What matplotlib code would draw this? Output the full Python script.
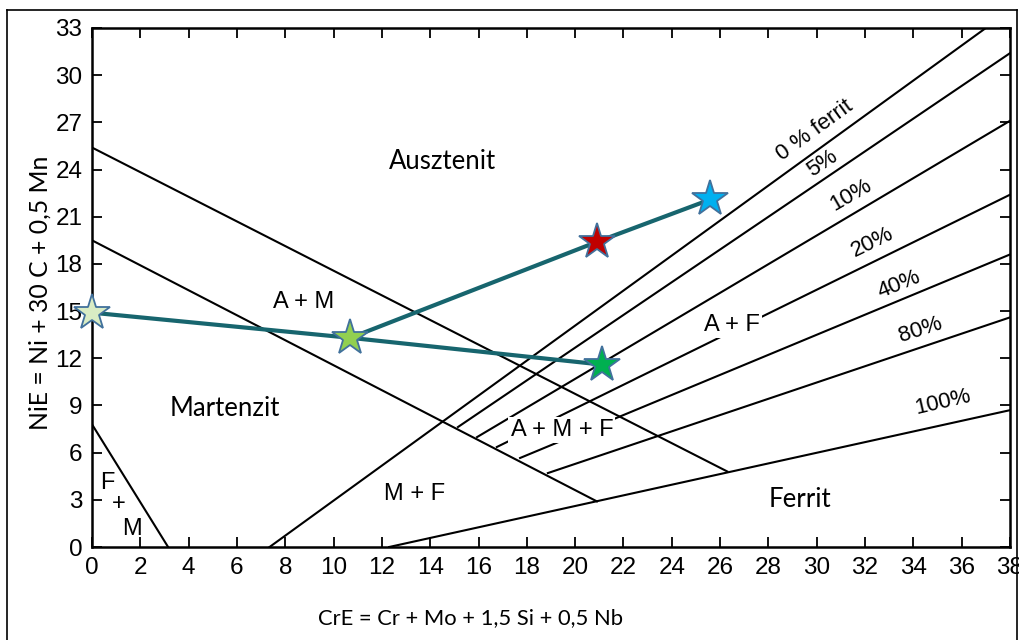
import matplotlib
matplotlib.use("Agg")
import matplotlib.pyplot as plt
from matplotlib.lines import Line2D

# ---- diagram boundary lines (CrE, NiE) ----
fm_line_x = [0.0, 3.15]
fm_line_y = [7.8, 0.0]
am_upper_x = [0.0, 26.3]
am_upper_y = [25.4, 4.8]
am_lower_x = [0.0, 20.9]
am_lower_y = [19.5, 2.9]

ferrite_labels = ["0 % ferrit", "5%", "10%", "20%", "40%", "80%", "100%"]
ferrite_start_x = [7.35, 15.15, 15.94, 16.76, 17.72, 18.87, 12.3]
ferrite_start_y = [0.0, 7.63, 6.99, 6.36, 5.66, 4.70, 0.0]
ferrite_end_x = [37.0, 38.0, 38.0, 38.0, 38.0, 38.0, 38.0]
ferrite_end_y = [33.0, 31.4, 27.1, 22.4, 18.6, 14.6, 8.7]
# label positions / rotations
ferrite_lab_x = [29.9, 30.25, 31.4, 32.3, 33.4, 34.3, 35.2]
ferrite_lab_y = [26.5, 24.4, 22.4, 19.4, 16.7, 13.8, 9.2]
ferrite_lab_rot = [36, 34, 30, 26, 22, 18, 13]

# ---- alloy points ----
pt_labels = ["P1", "P2", "P3", "P4", "P5"]
pt_cre = [0.0, 10.7, 20.9, 25.6, 21.1]
pt_nie = [14.9, 13.3, 19.4, 22.1, 11.6]
pt_colors = ["#d9ecc4", "#92d050", "#c00000", "#00b0f0", "#00b050"]
path_a = [0, 1, 4]
path_b = [1, 2, 3]

x_ticks = list(range(0, 39, 2))
y_ticks = list(range(0, 34, 3))

W, H = 1019, 640
fig = plt.figure(figsize=(W / 100, H / 100), dpi=100)
fig.patch.set_facecolor("white")
ax = fig.add_axes([92 / W, 1 - 547 / H, (1010 - 92) / W, (547 - 28) / H])
ax.set_xlim(0, 38)
ax.set_ylim(0, 33)

lc = "black"
lw = 1.5
ax.plot(fm_line_x, fm_line_y, color=lc, lw=lw)
ax.plot(am_upper_x, am_upper_y, color=lc, lw=lw)
ax.plot(am_lower_x, am_lower_y, color=lc, lw=lw)
for sx, sy, ex, ey in zip(ferrite_start_x, ferrite_start_y, ferrite_end_x, ferrite_end_y):
    ax.plot([sx, ex], [sy, ey], color=lc, lw=lw)

lab_font = "Liberation Sans"
for t, x, y, r in zip(ferrite_labels, ferrite_lab_x, ferrite_lab_y, ferrite_lab_rot):
    ax.text(x, y, t, rotation=r, ha="center", va="center", fontsize=16,
            family=lab_font, rotation_mode="anchor")

bb = dict(facecolor="white", edgecolor="none", pad=1.5)
fs = 17
ax.text(8.75, 15.55, "A + M", ha="center", va="center", fontsize=fs, family=lab_font)
ax.text(26.5, 14.1, "A + F", ha="center", va="center", fontsize=fs, family=lab_font, bbox=bb)
ax.text(19.45, 7.45, "A + M + F", ha="center", va="center", fontsize=fs, family=lab_font, bbox=bb)
ax.text(13.35, 3.4, "M + F", ha="center", va="center", fontsize=fs, family=lab_font)
ax.text(0.65, 4.05, "F", ha="center", va="center", fontsize=fs, family=lab_font)
ax.text(1.1, 2.75, "+", ha="center", va="center", fontsize=fs, family=lab_font)
ax.text(1.65, 1.15, "M", ha="center", va="center", fontsize=fs, family=lab_font)

reg_font = "Lato"
ax.text(14.5, 24.5, "Ausztenit", ha="center", va="center", fontsize=18.5, family=reg_font)
ax.text(5.5, 8.8, "Martenzit", ha="center", va="center", fontsize=18.5, family=reg_font)
ax.text(29.3, 3.0, "Ferrit", ha="center", va="center", fontsize=18.5, family=reg_font)

teal = "#17656e"
for path in (path_a, path_b):
    ax.plot([pt_cre[i] for i in path], [pt_nie[i] for i in path], color=teal, lw=3,
            solid_capstyle="butt", zorder=4)
for x, y, c in zip(pt_cre, pt_nie, pt_colors):
    ax.plot([x], [y], marker="*", ms=27, mfc=c, mec="#41719c", mew=1.3,
            linestyle="none", zorder=5, clip_on=False)

ax.set_xticks(x_ticks)
ax.set_yticks(y_ticks)
ax.tick_params(direction="in", length=7, width=1.3, top=True, right=True,
               labelsize=17.5, pad=7)
for lab in ax.get_xticklabels() + ax.get_yticklabels():
    lab.set_family(lab_font)
for s in ax.spines.values():
    s.set_linewidth(1.8)

fig.text(40 / W, 1 - 293 / H, "NiE = Ni + 30 C + 0,5 Mn", rotation=90, ha="center",
         va="center", fontsize=17.8, family=reg_font)
fig.text(470 / W, 1 - 618 / H, "CrE = Cr + Mo + 1,5 Si + 0,5 Nb", ha="center",
         va="center", fontsize=15.8, family=reg_font)

# image frame
fy = 1 - 10 / H
fig.add_artist(Line2D([7 / W, 1017 / W], [fy, fy], color="black", lw=1.2, transform=fig.transFigure))
fig.add_artist(Line2D([7 / W, 7 / W], [0, fy], color="black", lw=1.2, transform=fig.transFigure))
fig.add_artist(Line2D([1017 / W, 1017 / W], [0, fy], color="black", lw=1.2, transform=fig.transFigure))

fig.savefig("out.png", dpi=100)
